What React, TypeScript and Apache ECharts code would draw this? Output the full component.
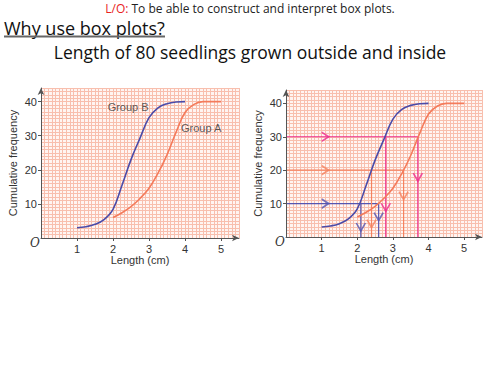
import React, { useEffect, useRef } from "react";
import * as echarts from "echarts";

// Cumulative frequency curves (length cm, cumulative frequency)
const groupB: number[][] = [
  [1, 3], [1.25, 3.3], [1.5, 4], [1.75, 5.4], [2, 8.4], [2.25, 15.5], [2.5, 23],
  [2.75, 29.3], [3, 35.3], [3.25, 38.2], [3.5, 39.4], [3.75, 39.9], [4, 40],
];
const groupA: number[][] = [
  [2, 6], [2.25, 7.4], [2.5, 9.2], [2.75, 11.6], [3, 14.6], [3.25, 19], [3.5, 24.4],
  [3.75, 31], [4, 36.8], [4.25, 39.2], [4.5, 40], [5, 40],
];

// Quartile reading lines (right chart)
const levels = [10, 20, 30];
const levelColors = ["#5656b0", "#f5825f", "#ec2d8d"];
const bReadings = [2.1, 2.4, 2.8];
const aReadings = [2.6, 3.3, 3.7];
const rightArrowX = 1.1;
const downArrowsB: number[][] = [[2.1, 3.0], [2.4, 4.0], [2.8, 8.9]];
const downArrowsA: number[][] = [[2.6, 6.1], [3.3, 12.4], [3.7, 17.9]];

const xTickLabels = [1, 2, 3, 4, 5];
const yTickLabels = [10, 20, 30, 40];

const groupLabels = [
  { name: "Group B", pos: [2.42, 38.3] },
  { name: "Group A", pos: [4.45, 32.3] },
];

const colorB = "#4b4ba8";
const colorA = "#f47b5b";

const TEXT_FONT = "'Comic Sans MS', 'Open Sans', sans-serif";
const AXIS_FONT = "'Liberation Sans', Arial, sans-serif";

export default function App() {
  const ref = useRef<HTMLDivElement>(null);

  useEffect(() => {
    if (!ref.current) return;
    const chart = echarts.init(ref.current, undefined, { renderer: "svg" });

    const makeX = (gridIndex: number) => ({
      type: "value" as const,
      gridIndex,
      min: 0,
      max: 5.5,
      interval: 0.5,
      name: "Length (cm)",
      nameLocation: "middle" as const,
      nameGap: 15,
      nameTextStyle: { fontFamily: AXIS_FONT, fontSize: 11, color: "#333" },
      axisLine: {
        show: true,
        symbol: ["none", "arrow"],
        symbolSize: [5, 7],
        lineStyle: { color: "#555", width: 1 },
      },
      axisTick: { show: true, customValues: xTickLabels, length: 3, lineStyle: { color: "#555" } },
      axisLabel: {
        customValues: xTickLabels,
        fontFamily: AXIS_FONT,
        fontSize: 11,
        color: "#333",
        margin: 5,
      },
      splitLine: { show: false },
      z: 4,
    });

    const makeY = (gridIndex: number) => ({
      type: "value" as const,
      gridIndex,
      min: 0,
      max: 44,
      interval: 1,
      name: "Cumulative frequency",
      nameLocation: "middle" as const,
      nameGap: 23,
      nameRotate: 90,
      nameTextStyle: { fontFamily: AXIS_FONT, fontSize: 11, color: "#333" },
      axisLine: {
        show: true,
        symbol: ["none", "arrow"],
        symbolSize: [5, 7],
        lineStyle: { color: "#555", width: 1 },
      },
      axisTick: { show: true, customValues: yTickLabels, length: 3, lineStyle: { color: "#555" } },
      axisLabel: {
        customValues: yTickLabels,
        fontFamily: AXIS_FONT,
        fontSize: 11,
        color: "#333",
        margin: 4,
      },
      splitLine: { show: false },
      z: 4,
    });

    // hidden axes used only to draw the graph-paper lines
    const paperLine = { show: true, lineStyle: { color: "#f8bfae", width: 1 } };
    const paperX = (gridIndex: number) => ({
      type: "value" as const,
      gridIndex,
      min: 0,
      max: 5.5,
      interval: 0.1,
      axisLine: { show: false },
      axisTick: { show: false },
      axisLabel: { show: false },
      splitLine: paperLine,
      z: 0,
    });
    const paperY = (gridIndex: number) => ({
      type: "value" as const,
      gridIndex,
      min: 0,
      max: 44,
      interval: 1,
      axisLine: { show: false },
      axisTick: { show: false },
      axisLabel: { show: false },
      splitLine: paperLine,
      z: 0,
    });

    const curve = (data: number[][], color: string, idx: number) => ({
      type: "line" as const,
      xAxisIndex: idx,
      yAxisIndex: idx,
      data,
      smooth: 0.4,
      showSymbol: false,
      lineStyle: { color, width: 1.6 },
      z: 5,
    });

    const seg = (pts: number[][], color: string) => ({
      type: "line" as const,
      xAxisIndex: 1,
      yAxisIndex: 1,
      data: pts,
      showSymbol: false,
      lineStyle: { color, width: 1.2 },
      z: 3,
    });

    const guideSeries: any[] = [];
    levels.forEach((L, i) => {
      const c = levelColors[i];
      guideSeries.push(seg([[0, L], [aReadings[i], L]], c));
      guideSeries.push(seg([[bReadings[i], L], [bReadings[i], 0]], c));
      guideSeries.push(seg([[aReadings[i], L], [aReadings[i], 0]], c));
    });

    const chevronRight = "path://M0,0 L7,5 L0,10";
    const chevronDown = "path://M0,0 L5,7 L10,0";

    const arrowSeries: any[] = [];
    levels.forEach((L, i) => {
      const c = levelColors[i];
      arrowSeries.push({
        type: "scatter",
        xAxisIndex: 1,
        yAxisIndex: 1,
        data: [[rightArrowX, L]],
        symbol: chevronRight,
        symbolSize: [7, 9],
        itemStyle: { color: "none", borderColor: c, borderWidth: 1.6 },
        z: 6,
      });
      arrowSeries.push({
        type: "scatter",
        xAxisIndex: 1,
        yAxisIndex: 1,
        data: [downArrowsB[i], downArrowsA[i]],
        symbol: chevronDown,
        symbolSize: [9, 8],
        itemStyle: { color: "none", borderColor: c, borderWidth: 1.6 },
        z: 6,
      });
    });

    const labelSeries = {
      type: "scatter" as const,
      xAxisIndex: 0,
      yAxisIndex: 0,
      symbolSize: 0,
      data: groupLabels.map((g) => ({ name: g.name, value: g.pos })),
      label: {
        show: true,
        position: "inside" as const,
        formatter: "{b}",
        fontFamily: AXIS_FONT,
        fontSize: 11,
        color: "#333",
      },
      z: 7,
    };

    const gridBase = {
      show: true,
      backgroundColor: "#fff5f2",
      borderWidth: 0,
      containLabel: false,
    };

    chart.setOption({
      animation: false,
      backgroundColor: "#ffffff",
      graphic: [
        {
          type: "text",
          x: 250,
          y: 8,
          style: {
            text: "{r|L/O:} To be able to construct and interpret box plots.",
            align: "center",
            verticalAlign: "middle",
            font: `12px ${TEXT_FONT}`,
            fill: "#222",
            rich: {
              r: { fontFamily: TEXT_FONT, fontSize: 12, fill: "#e8231e", color: "#e8231e" },
            },
          },
        },
        {
          type: "text",
          x: 4,
          y: 28,
          style: {
            text: "Why use box plots?",
            align: "left",
            verticalAlign: "middle",
            font: `18px ${TEXT_FONT}`,
            fill: "#111",
          },
        },
        {
          type: "line",
          shape: { x1: 4, y1: 36.5, x2: 165, y2: 36.5 },
          style: { stroke: "#666", lineWidth: 2 },
        },
        {
          type: "text",
          x: 250,
          y: 52,
          style: {
            text: "Length of 80 seedlings grown outside and inside",
            align: "center",
            verticalAlign: "middle",
            font: `17.5px ${TEXT_FONT}`,
            fill: "#111",
          },
        },
        {
          type: "text",
          left: 30,
          top: 237,
          style: { text: "O", font: "italic 12px 'DejaVu Serif', serif", fill: "#333" },
        },
        {
          type: "text",
          left: 275,
          top: 236,
          style: { text: "O", font: "italic 12px 'DejaVu Serif', serif", fill: "#333" },
        },
      ],
      grid: [
        { ...gridBase, left: 41, top: 88, width: 198, height: 150 },
        { ...gridBase, left: 286, top: 90, width: 196, height: 147 },
      ],
      xAxis: [makeX(0), makeX(1), paperX(0), paperX(1)],
      yAxis: [makeY(0), makeY(1), paperY(0), paperY(1)],
      series: [
        curve(groupB, colorB, 0),
        curve(groupA, colorA, 0),
        ...guideSeries,
        curve(groupB, colorB, 1),
        curve(groupA, colorA, 1),
        ...arrowSeries,
        labelSeries,
      ],
    });

    return () => chart.dispose();
  }, []);

  return (
    <div
      ref={ref}
      style={{ position: "absolute", left: 0, top: 0, width: 500, height: 372 }}
    />
  );
}
